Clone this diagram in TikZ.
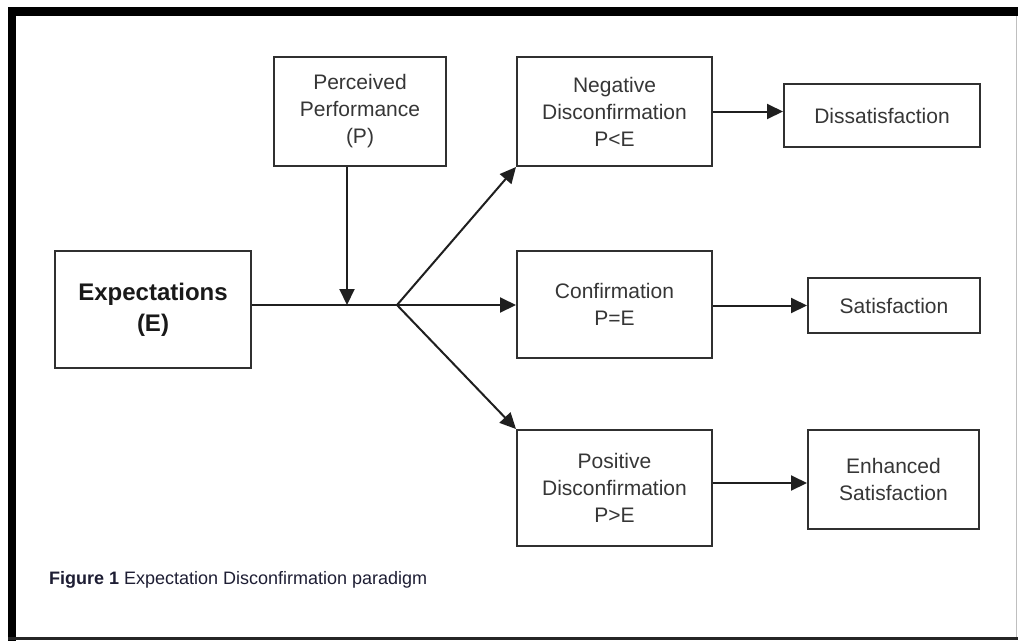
\documentclass[tikz,border=0pt]{standalone}
\usepackage{fontspec}
\setmainfont{Liberation Sans}
\usepackage{graphicx}
\usetikzlibrary{arrows.meta,calc}
\definecolor{boxline}{HTML}{303030}
\definecolor{boxtext}{HTML}{363636}
\definecolor{capnavy}{HTML}{1E1E34}

\begin{document}
\begin{tikzpicture}[x=1pt,y=-1pt,
  box/.style={draw=boxline, line width=2pt, fill=white, inner sep=0pt,
    align=center, text=boxtext, font=\fontsize{21}{27}\selectfont},
  arr/.style={draw=black!88, line width=2pt, -{Triangle[length=16pt,width=15pt]}},
  link/.style={draw=black!88, line width=2pt}]

% page area and frame
\useasboundingbox (0,0) rectangle (1018,641);
\fill[white] (0,0) rectangle (1018,641);
\fill[black] (8,7) rectangle (1018,16);
\fill[black] (8,7) rectangle (16,641);
\fill[black!85] (8,637) rectangle (1018,640);
\draw[black!25, line width=1pt] (1016,16) -- (1016,637);

% boxes
\node[box, minimum width=196pt, minimum height=117pt, text=black!90,
      font=\bfseries\fontsize{24}{31}\selectfont] (expect) at (153,309.5) {Expectations\\(E)};
\node[box, minimum width=172pt, minimum height=109pt] (perc) at (360,111.5) {Perceived\\Performance\\(P)};
\node[box, minimum width=195pt, minimum height=109pt] (neg) at (614.5,111.5) {Negative\\Disconfirmation\\P<E};
\node[box, minimum width=195pt, minimum height=107pt] (conf) at (614.5,304.5) {Confirmation\\P=E};
\node[box, minimum width=195pt, minimum height=116pt] (pos) at (614.5,488) {Positive\\Disconfirmation\\P>E};
\node[box, minimum width=196pt, minimum height=63pt] (dis) at (882,115.5) {Dissatisfaction};
\node[box, minimum width=172pt, minimum height=55pt] (sat) at (894,305.5) {Satisfaction};
\node[box, minimum width=171pt, minimum height=99pt] (enh) at (893.5,479.5) {Enhanced\\Satisfaction};

% connectors
\coordinate (join) at (397,305);
\coordinate (drop) at (347,305);
\draw[link] (expect.east |- join) -- (join);
\draw[arr] (perc.south -| drop) -- (drop);
\draw[arr] (join) -- (neg.south west);
\draw[arr] (join) -- (conf.west |- join);
\draw[arr] (join) -- (pos.north west);
\draw[arr] (neg.east) -- (neg.east -| dis.west);
\draw[arr] (conf.east |- sat.west) -- (sat.west);
\coordinate (posout) at ($(pos.east)+(0,-5)$);
\draw[arr] (posout) -- (posout -| enh.west);

% caption
\node[anchor=base west, text=capnavy, inner sep=0pt] (cap) at (49,584)
  {\resizebox{378pt}{\height}{\fontsize{18}{18}\selectfont\textbf{Figure 1} Expectation Disconfirmation paradigm}};
\end{tikzpicture}
\end{document}
